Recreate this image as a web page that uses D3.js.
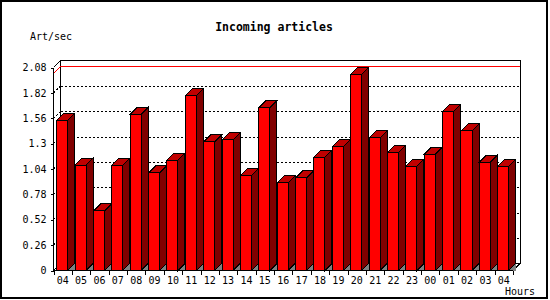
<!DOCTYPE html>
<html>
<head>
<meta charset="utf-8">
<script src="https://cdnjs.cloudflare.com/ajax/libs/d3/7.8.5/d3.min.js"></script>
<style>
    body { margin: 0; background: #fff; }
    svg { shape-rendering: crispEdges; }
    text { font-family: "DejaVu Sans Mono", monospace; fill: #000; }
    .tickLabel { font-size: 10px; }
    .title { font-size: 11.5px; font-weight: bold; }
</style>
</head>
<body>
<script>
// Chart data
const hours = ['04', '05', '06', '07', '08', '09', '10', '11', '12', '13', '14', '15', '16',
    '17', '18', '19', '20', '21', '22', '23', '00', '01', '02', '03', '04'];
const artPerSec = [1.54, 1.08, 0.61, 1.08, 1.60, 1.00, 1.13, 1.79, 1.32, 1.34, 0.97, 1.67, 0.90,
    0.95, 1.16, 1.27, 2.01, 1.36, 1.21, 1.07, 1.19, 1.63, 1.43, 1.11, 1.07];
const yTicks = [0, 0.26, 0.52, 0.78, 1.04, 1.3, 1.56, 1.82, 2.08];

const width = 550, height = 300;
const depthX = 7, depthY = 7;

var svg = d3.select("body").append("svg")
    .attr("width", width)
    .attr("height", height);

svg.append("rect")
    .attr("x", 1).attr("y", 1)
    .attr("width", 546).attr("height", 297)
    .attr("fill", "#fff")
    .attr("stroke", "#000")
    .attr("stroke-width", 2);

var x = d3.scaleBand()
    .domain(d3.range(hours.length))
    .range([53.5, 513]);

var y = d3.scaleLinear()
    .domain([0, d3.max(yTicks)])
    .range([270.5, 67.5]);

let x0 = x.range()[0], x1 = x.range()[1];
let yBottom = y(0), yTop = y(d3.max(yTicks));

// back wall
svg.append("rect")
    .attr("x", x0 + depthX)
    .attr("y", yTop - depthY)
    .attr("width", x1 - x0)
    .attr("height", yBottom - yTop)
    .attr("fill", "#fff")
    .attr("stroke", "#000");

// dotted gridlines on the back and left wall
let grid = yTicks.filter(t => t > 0 && t < d3.max(yTicks));
svg.selectAll(".gridBack")
    .data(grid)
    .enter()
    .append("line")
    .attr("class", "gridBack")
    .attr("x1", x0 + depthX)
    .attr("x2", x1 + depthX)
    .attr("y1", d => Math.round(y(d) - depthY) + 0.5)
    .attr("y2", d => Math.round(y(d) - depthY) + 0.5)
    .attr("stroke", "#000")
    .attr("stroke-dasharray", "2,2");
svg.selectAll(".gridSide")
    .data(grid)
    .enter()
    .append("line")
    .attr("class", "gridSide")
    .attr("x1", x0)
    .attr("x2", x0 + depthX)
    .attr("y1", d => y(d))
    .attr("y2", d => y(d) - depthY)
    .attr("stroke", "#000")
    .attr("stroke-dasharray", "2,2");

// max line
let maxVal = d3.max(artPerSec);
let maxY = Math.round(y(maxVal) - depthY) - 0.5;
svg.append("rect")
    .attr("class", "maxLine")
    .attr("x", x0 + depthX + 0.5)
    .attr("y", maxY - 0.5)
    .attr("width", x1 - x0 - 1)
    .attr("height", 1)
    .attr("fill", "#ff0000");
svg.append("line")
    .attr("x1", x0)
    .attr("x2", x0 + depthX)
    .attr("y1", maxY + depthY)
    .attr("y2", maxY)
    .attr("stroke", "#ff0000");

// left wall edges and floor
svg.append("path")
    .attr("d", "M" + x0 + "," + yTop + "L" + (x0 + depthX) + "," + (yTop - depthY))
    .attr("stroke", "#000").attr("fill", "none");
svg.append("path")
    .attr("d", "M" + x0 + "," + yBottom + "L" + (x0 + depthX) + "," + (yBottom - depthY))
    .attr("stroke", "#000").attr("fill", "none");
svg.append("path")
    .attr("d", "M" + x1 + "," + yBottom + "L" + (x1 + depthX) + "," + (yBottom - depthY))
    .attr("stroke", "#000").attr("fill", "none");

// bars
let bw = x.bandwidth();
let barOff = bw * 0.17, barW = bw * 0.6;
var bars = svg.selectAll(".bar")
    .data(artPerSec)
    .enter()
    .append("g")
    .attr("class", "bar");

bars.append("path")
    .attr("fill", "#808080")
    .attr("d", function (d, i) {
        let r = x(i) + barOff + barW;
        return "M" + r + "," + yBottom + "L" + (r + depthX) + "," + (yBottom - depthY) +
            "L" + (r + depthX) + "," + yBottom + "Z";
    });
bars.append("path")
    .attr("fill", "#800000")
    .attr("stroke", "#000")
    .attr("d", function (d, i) {
        let r = x(i) + barOff + barW;
        return "M" + r + "," + y(d) + "L" + (r + depthX) + "," + (y(d) - depthY) +
            "L" + (r + depthX) + "," + (yBottom - depthY) + "L" + r + "," + yBottom + "Z";
    });
bars.append("path")
    .attr("fill", "#c00000")
    .attr("stroke", "#000")
    .attr("d", function (d, i) {
        let l = x(i) + barOff, r = l + barW;
        return "M" + l + "," + y(d) + "L" + (l + depthX) + "," + (y(d) - depthY) +
            "L" + (r + depthX) + "," + (y(d) - depthY) + "L" + r + "," + y(d) + "Z";
    });
bars.append("rect")
    .attr("fill", "#f00")
    .attr("stroke", "#000")
    .attr("x", (d, i) => x(i) + barOff)
    .attr("y", d => y(d))
    .attr("width", barW)
    .attr("height", d => yBottom - y(d));

// axes
var yAxis = d3.axisLeft(y)
    .tickValues(yTicks)
    .tickFormat(d => String(d))
    .tickSize(3)
    .tickPadding(4);
var gy = svg.append("g")
    .attr("transform", "translate(" + x0 + ",0)")
    .call(yAxis);
gy.select(".domain").attr("d", "M0," + yBottom + "V" + yTop);
gy.selectAll("text").attr("class", "tickLabel");
gy.attr("font-family", null).attr("font-size", null);

var xAxis = d3.axisBottom(x)
    .tickFormat(i => hours[i])
    .tickSize(0)
    .tickPadding(6);
var gx = svg.append("g")
    .attr("transform", "translate(0," + yBottom + ")")
    .call(xAxis);
gx.select(".domain").attr("d", "M" + x0 + ",0H" + x1);
gx.selectAll("text").attr("class", "tickLabel");
gx.attr("font-family", null).attr("font-size", null);

gx.selectAll(".edgeTick")
    .data(d3.range(hours.length + 1))
    .enter()
    .append("line")
    .attr("class", "edgeTick")
    .attr("x1", i => Math.round(x0 + i * bw) + 0.5)
    .attr("x2", i => Math.round(x0 + i * bw) + 0.5)
    .attr("y1", 0)
    .attr("y2", 4)
    .attr("stroke", "#000");

// titles
svg.append("text")
    .attr("class", "title")
    .attr("x", 274)
    .attr("y", 31)
    .style("text-anchor", "middle")
    .text("Incoming articles");
svg.append("text")
    .attr("class", "tickLabel")
    .attr("x", 30)
    .attr("y", 40)
    .text("Art/sec");
svg.append("text")
    .attr("class", "tickLabel")
    .attr("x", 505)
    .attr("y", 295)
    .text("Hours");
</script>
</body>
</html>
